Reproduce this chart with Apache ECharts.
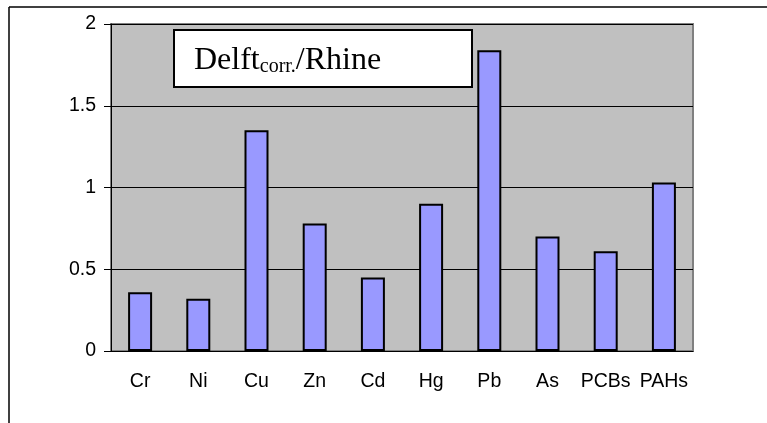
<!DOCTYPE html>
<html>
<head>
<meta charset="utf-8">
<script src="https://cdn.jsdelivr.net/npm/echarts@6/dist/echarts.min.js"></script>
<style>
  html, body { margin: 0; padding: 0; background: #fff; }
  #main { width: 767px; height: 423px; }
</style>
</head>
<body>
<div id="main"></div>
<script>
// ratio Delft (corrected) / Rhine per substance
var categories = ['Cr', 'Ni', 'Cu', 'Zn', 'Cd', 'Hg', 'Pb', 'As', 'PCBs', 'PAHs'];
var ratios = [0.36, 0.32, 1.35, 0.78, 0.45, 0.90, 1.84, 0.70, 0.61, 1.03];
var yTicks = [0, 0.5, 1, 1.5, 2];

var myChart = echarts.init(document.getElementById('main'));
var option = {
    animation: false,
    backgroundColor: '#fff',
    grid: {
        left: 111, top: 24, width: 582, height: 327,
        show: true,
        backgroundColor: '#c0c0c0',
        borderColor: '#808080',
        borderWidth: 2
    },
    xAxis: {
        type: 'category',
        data: categories,
        axisLine: { lineStyle: { color: '#000', width: 1 } },
        axisTick: { length: 7, interval: 0, lineStyle: { color: '#000' } },
        axisLabel: { color: '#000', fontFamily: 'Liberation Sans', fontSize: 19.5, margin: 21, interval: 0 }
    },
    yAxis: {
        type: 'value',
        min: yTicks[0],
        max: yTicks[yTicks.length - 1],
        interval: 0.5,
        axisLine: { show: true, lineStyle: { color: '#000', width: 1 } },
        axisTick: { show: true, length: 7, lineStyle: { color: '#000' } },
        axisLabel: { color: '#000', fontFamily: 'Liberation Sans', fontSize: 19.5, margin: 15 },
        splitLine: { lineStyle: { color: '#000', width: 1 } }
    },
    series: [{
        type: 'bar',
        data: ratios,
        barWidth: 24,
        itemStyle: { color: '#9999ff', borderColor: '#000', borderWidth: 2 }
    }],
    graphic: [
        // outer chart frame (only top and left edges fall in the picture)
        { type: 'line', shape: { x1: 9, y1: 7, x2: 767, y2: 7 }, style: { stroke: '#000', lineWidth: 1.5 } },
        { type: 'line', shape: { x1: 9, y1: 7, x2: 9, y2: 423 }, style: { stroke: '#000', lineWidth: 1.5 } },
        // label box
        { type: 'rect', shape: { x: 174, y: 30, width: 298, height: 57 }, style: { fill: '#fff', stroke: '#000', lineWidth: 2 }, z: 10 },
        {
            type: 'text', left: 194, top: 45, z: 11,
            style: {
                text: '{a|Delft}{b|corr.}{a|/Rhine}',
                rich: {
                    a: { fontFamily: 'Liberation Serif', fontSize: 32, fill: '#000' },
                    b: { fontFamily: 'Liberation Serif', fontSize: 20, fill: '#000', verticalAlign: 'bottom' }
                }
            }
        }
    ]
};
myChart.setOption(option);
</script>
</body>
</html>
